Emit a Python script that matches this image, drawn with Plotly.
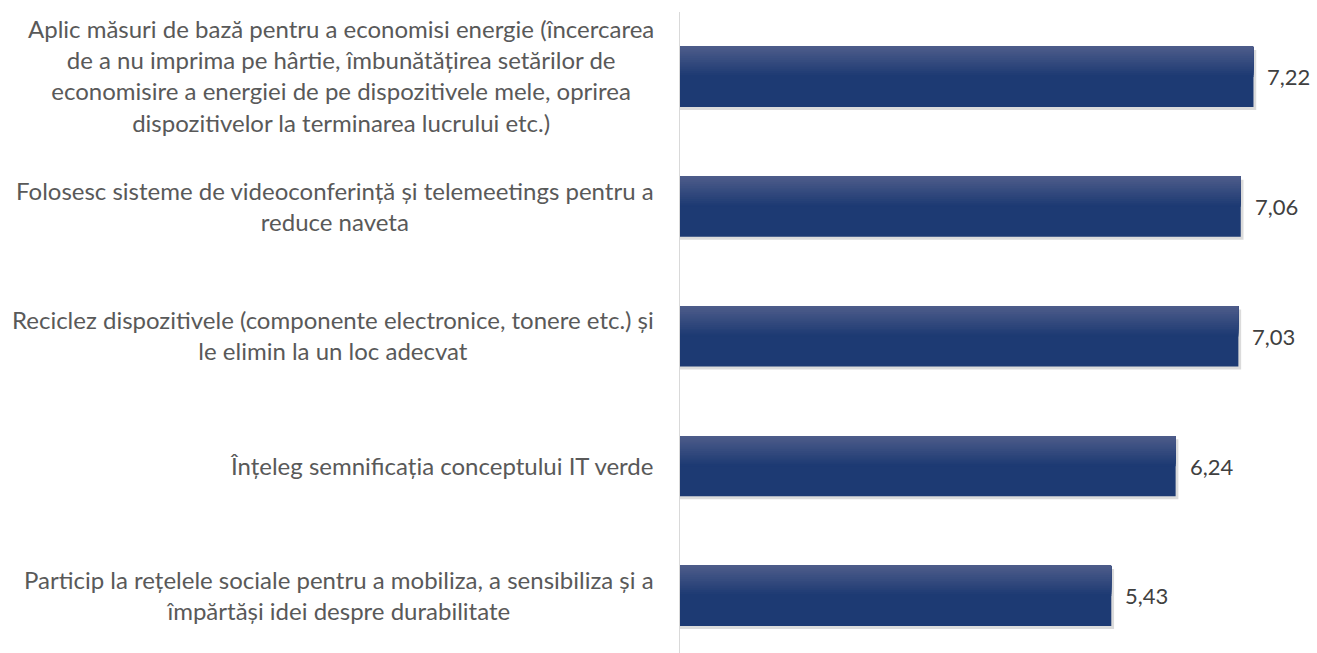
import plotly.graph_objects as go

# Survey statements (top to bottom) and their average scores
categories = [
    "Aplic măsuri de bază pentru a economisi energie (încercarea<br>de a nu imprima pe hârtie, îmbunătățirea setărilor de<br>economisire a energiei de pe dispozitivele mele, oprirea<br>dispozitivelor la terminarea lucrului etc.)",
    "Folosesc sisteme de videoconferință și telemeetings pentru a<br>reduce naveta",
    "Reciclez dispozitivele (componente electronice, tonere etc.) și<br>le elimin la un loc adecvat",
    "Înțeleg semnificația conceptului IT verde",
    "Particip la rețelele sociale pentru a mobiliza, a sensibiliza și a<br>împărtăși idei despre durabilitate",
]
scores = [7.22, 7.06, 7.03, 6.24, 5.43]

W, H = 1317, 653
LEFT, TOP = 680, 12
X_MAX = 8.02
Y_RANGE = [4.44, -0.5]
BAR_W = 0.4624
TEXT_COLOR = "#595959"
FONT = "Lato"

px_per_y = (H - TOP) / (Y_RANGE[0] - Y_RANGE[1])

fig = go.Figure()

# soft drop shadow under each bar
fig.add_trace(go.Bar(
    y=categories, x=[v + 0.035 for v in scores], orientation="h",
    width=BAR_W, offset=-BAR_W / 2 + 3 / px_per_y,
    marker=dict(color="rgba(0,0,0,0.14)", line=dict(width=0)),
    hoverinfo="skip", showlegend=False,
))

# base bar colour
fig.add_trace(go.Bar(
    y=categories, x=scores, orientation="h",
    width=BAR_W, offset=-BAR_W / 2,
    marker=dict(color="#1d3a73", line=dict(width=0)),
    showlegend=False,
))

# nested bands anchored at the top edge give a smooth top-to-bottom gradient
top_c = (76, 91, 137)
mid_c = (29, 58, 115)
steps = 16
grad_px = 30
for i in range(steps):
    t = i / (steps - 1)
    c = tuple(round(mid_c[k] + (top_c[k] - mid_c[k]) * t) for k in range(3))
    h = grad_px * (steps - i) / steps / px_per_y
    fig.add_trace(go.Bar(
        y=categories, x=scores, orientation="h",
        width=h, offset=-BAR_W / 2,
        marker=dict(color=f"rgb{c}", line=dict(width=0)),
        hoverinfo="skip", showlegend=False,
    ))

annotations = []
for cat, v in zip(categories, scores):
    annotations.append(dict(
        x=0, xref="paper", y=cat, yref="y", xanchor="right", yanchor="middle",
        xshift=-24, yshift=1, text=cat, showarrow=False, align="center",
        font=dict(family=FONT, size=24, color=TEXT_COLOR),
    ))
    annotations.append(dict(
        x=v, xref="x", y=cat, yref="y", xanchor="left", yanchor="middle",
        xshift=12, text=f"{v:.2f}".replace(".", ","), showarrow=False,
        font=dict(family=FONT, size=22, color="#404040"),
    ))

fig.update_layout(
    width=W, height=H,
    margin=dict(l=LEFT, r=0, t=TOP, b=0),
    paper_bgcolor="white", plot_bgcolor="white",
    barmode="overlay",
    xaxis=dict(range=[0, X_MAX], visible=False, showgrid=False, zeroline=False),
    yaxis=dict(
        type="category", categoryorder="array", categoryarray=categories,
        range=Y_RANGE, showticklabels=False, ticks="",
        showline=True, linecolor="#d9d9d9", linewidth=1,
        showgrid=False, zeroline=False,
    ),
    annotations=annotations,
    font=dict(family=FONT, color=TEXT_COLOR),
)

fig.write_html("out.html")
